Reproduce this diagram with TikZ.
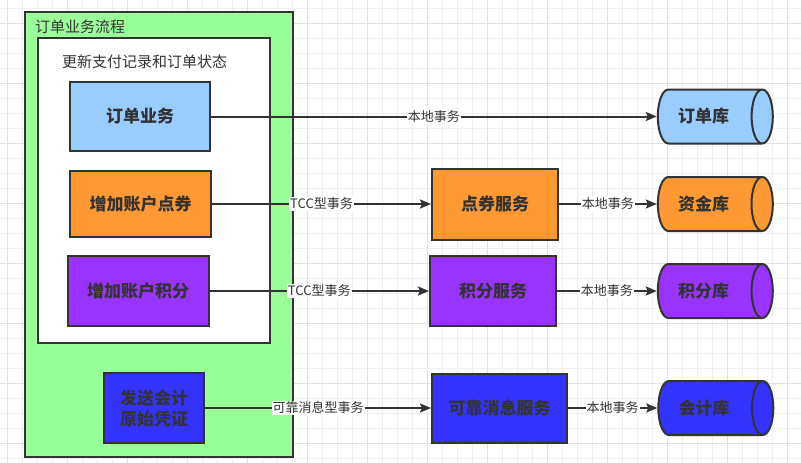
\documentclass[tikz,border=0pt]{standalone}
\usepackage{fontspec}
\setmainfont{Noto Sans CJK SC}
\usetikzlibrary{arrows.meta,shapes.geometric}
\definecolor{lineclr}{HTML}{333333}
\definecolor{flowgreen}{HTML}{99FF99}
\definecolor{ordblue}{HTML}{99CCFF}
\definecolor{couponorange}{HTML}{FF9933}
\definecolor{pointpurple}{HTML}{9933FF}
\definecolor{acctblue}{HTML}{3333FF}
\definecolor{gridminor}{HTML}{EFEFEF}
\definecolor{gridmajor}{HTML}{E2E2E2}

\begin{document}
\begin{tikzpicture}[
  x=1pt, y=-1pt,
  group/.style={rectangle, draw=lineclr, line width=2pt, inner sep=0pt},
  title/.style={anchor=west, inner sep=0pt, text=lineclr, font=\fontsize{15}{18}\selectfont},
  box/.style={rectangle, draw=lineclr, line width=2pt, align=center, inner sep=0pt, text=lineclr, font=\fontsize{17}{21}\selectfont\bfseries},
  db/.style={cylinder, draw=lineclr, line width=2pt, aspect=1.3, minimum width=54pt, minimum height=115pt, inner sep=0pt, text=lineclr, font=\fontsize{17}{21}\selectfont\bfseries, execute at begin node={\hspace*{-12pt}}},
  edgelabel/.style={fill=white, inner sep=1pt, text=lineclr, font=\fontsize{13}{15}\selectfont},
  >={Stealth[length=11pt, width=9pt, inset=2pt]}
]
  \useasboundingbox (0,0) rectangle (801,463);
  \fill[white] (0,0) rectangle (801,463);
  \foreach \gx in {7,22,...,800} \draw[gridminor, line width=1pt] (\gx,0) -- (\gx,463);
  \foreach \gy in {8,23,...,463} \draw[gridminor, line width=1pt] (0,\gy) -- (801,\gy);
  \foreach \gx in {7,67,...,800} \draw[gridmajor, line width=1pt] (\gx,0) -- (\gx,463);
  \foreach \gy in {23,83,...,463} \draw[gridmajor, line width=1pt] (0,\gy) -- (801,\gy);

  \node[group, fill=flowgreen, minimum width=268pt, minimum height=445pt] (flow) at (159,234.5) {};
  \node[title] (flowtitle) at (35,27) {订单业务流程};
  \node[group, fill=white, minimum width=232pt, minimum height=305pt] (update) at (154,190.5) {};
  \node[title] (updatetitle) at (62,62) {更新支付记录和订单状态};

  \node[box, fill=ordblue, minimum width=140pt, minimum height=69pt] (order) at (140,116.5) {订单业务};
  \node[box, fill=couponorange, minimum width=141pt, minimum height=66pt] (coupon) at (140.5,204) {增加账户点券};
  \node[box, fill=pointpurple, minimum width=141pt, minimum height=70pt] (points) at (138,291) {增加账户积分};
  \node[box, fill=acctblue, minimum width=100pt, minimum height=70pt] (voucher) at (154,408) {发送会计\\原始凭证};

  \node[box, fill=couponorange, minimum width=126pt, minimum height=71pt] (couponsvc) at (495,204) {点券服务};
  \node[box, fill=pointpurple, minimum width=126pt, minimum height=70pt] (pointsvc) at (493,291) {积分服务};
  \node[box, fill=acctblue, minimum width=135pt, minimum height=69pt] (msgsvc) at (499.5,408) {可靠消息服务};

  \node[db, fill=ordblue] (orderdb) at (709.5,116.5) {订单库};
  \node[db, fill=couponorange] (funddb) at (709.5,204) {资金库};
  \node[db, fill=pointpurple] (pointdb) at (709.5,291) {积分库};
  \node[db, fill=acctblue] (acctdb) at (710,408) {会计库};

  \draw[->, draw=lineclr, line width=2pt] (order) -- node[edgelabel] {本地事务} (orderdb);
  \draw[->, draw=lineclr, line width=2pt] (coupon) -- node[edgelabel] {TCC型事务} (couponsvc);
  \draw[->, draw=lineclr, line width=2pt] (couponsvc) -- node[edgelabel] {本地事务} (funddb);
  \draw[->, draw=lineclr, line width=2pt] (points) -- node[edgelabel] {TCC型事务} (pointsvc);
  \draw[->, draw=lineclr, line width=2pt] (pointsvc) -- node[edgelabel] {本地事务} (pointdb);
  \draw[->, draw=lineclr, line width=2pt] (voucher) -- node[edgelabel] {可靠消息型事务} (msgsvc);
  \draw[->, draw=lineclr, line width=2pt] (msgsvc) -- node[edgelabel] {本地事务} (acctdb);
\end{tikzpicture}
\end{document}
